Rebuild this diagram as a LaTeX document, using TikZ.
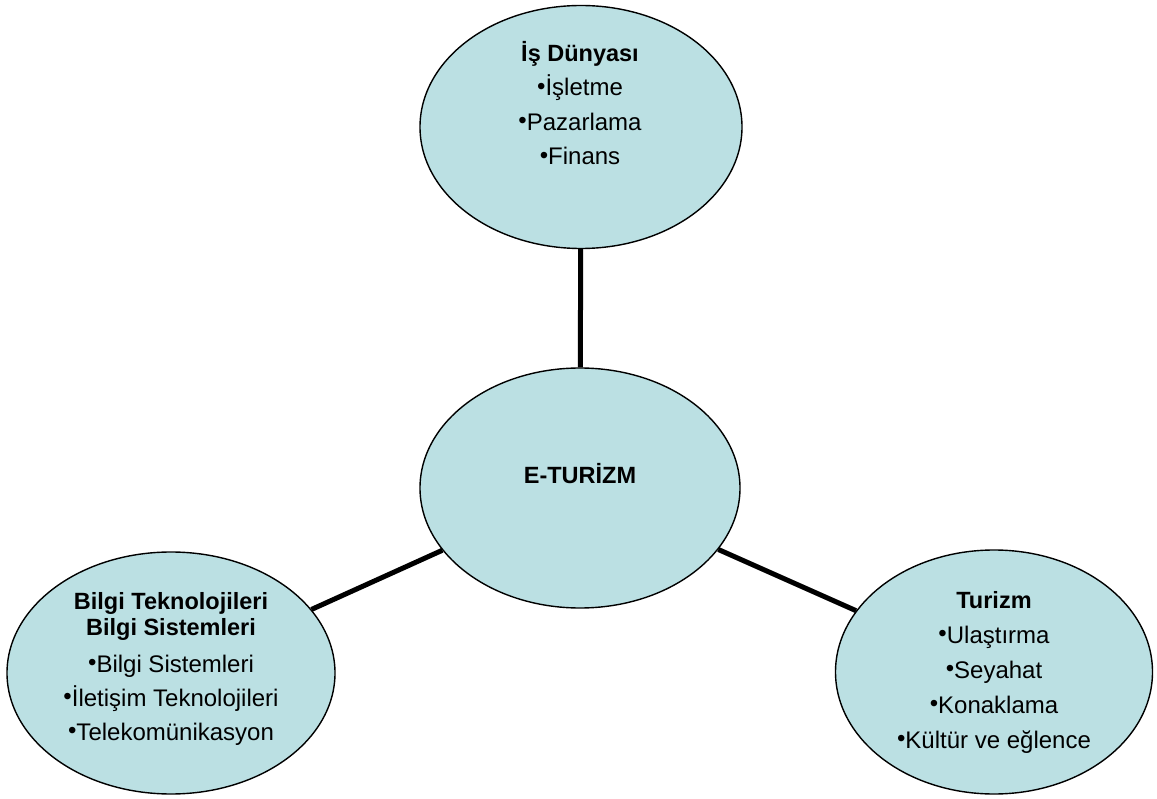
\documentclass[tikz,border=0pt]{standalone}
\usepackage{fontspec}
\setmainfont{Liberation Sans}
\usetikzlibrary{shapes.geometric}
\definecolor{bubble}{RGB}{187,224,227}
\newcommand{\bul}{\raisebox{1.5pt}{•}}
\newcommand{\ttl}[1]{{\fontsize{23.5}{26}\selectfont\bfseries #1}}
\tikzset{
  bubblenode/.style={ellipse, draw=black, line width=1.4pt, fill=bubble, inner sep=0pt},
  linktxt/.style={align=center, inner sep=0pt, anchor=base, font=\fontsize{24}{26}\selectfont},
  conn/.style={line width=5pt, black}
}
\begin{document}
\begin{tikzpicture}[x=1pt,y=-1pt]
\useasboundingbox (0,0) rectangle (1157,799);
\node[bubblenode, minimum width=322pt, minimum height=243pt] (top) at (581,127) {};
\node[bubblenode, minimum width=320pt, minimum height=240pt] (mid) at (580,488) {};
\node[bubblenode, minimum width=328pt, minimum height=242pt] (bl) at (171,673) {};
\node[bubblenode, minimum width=317pt, minimum height=244pt] (br) at (994,672) {};
\draw[conn] (mid) -- (top);
\draw[conn] (mid) -- (bl);
\draw[conn] (mid) -- (br);
\node[linktxt] (toptxt) at (580,165) {\ttl{İş Dünyası}\\[8.5pt]\bul İşletme\\[8.5pt]\bul Pazarlama\\[8.5pt]\bul Finans};
\node[linktxt] (midtxt) at (580,483) {\ttl{E-TURİZM}};
\node[linktxt] (bltxt) at (171,740) {\ttl{Bilgi Teknolojileri}\\\ttl{Bilgi Sistemleri}\\[11pt]\bul Bilgi Sistemleri\\[8pt]\bul İletişim Teknolojileri\\[8pt]\bul Telekomünikasyon};
\node[linktxt] (brtxt) at (994,748) {\ttl{Turizm}\\[9pt]\bul Ulaştırma\\[9pt]\bul Seyahat\\[9pt]\bul Konaklama\\[9pt]\bul Kültür ve eğlence};
\end{tikzpicture}
\end{document}
